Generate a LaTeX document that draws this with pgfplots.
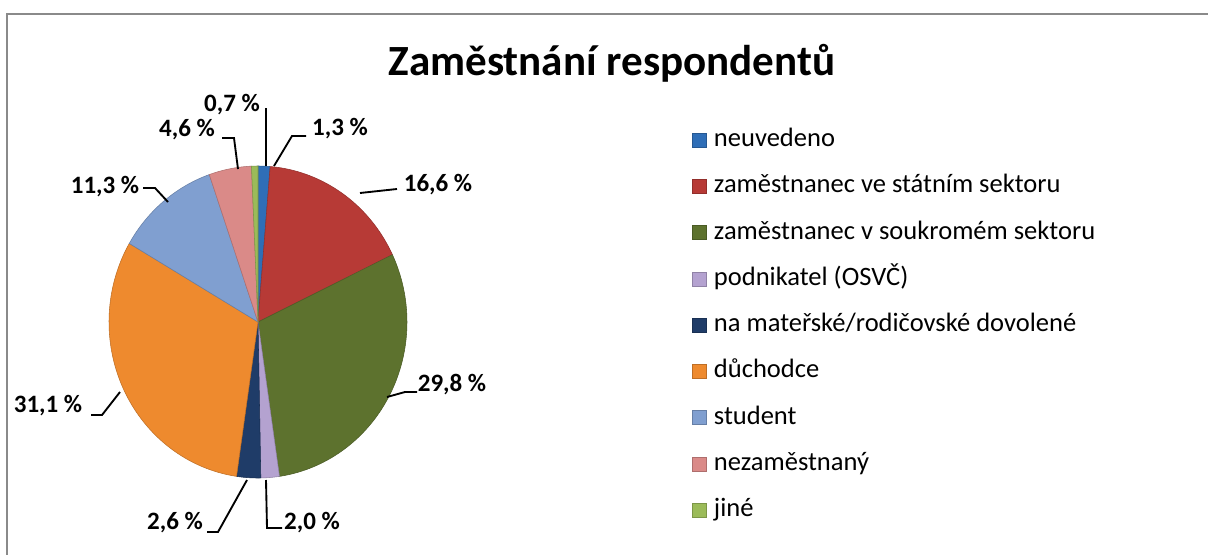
\documentclass[border=0pt]{standalone}
\usepackage{pgfplots}
\pgfplotsset{compat=1.18}
\usepackage{fontspec}
\setmainfont{Carlito}
\definecolor{cNeu}{HTML}{2F6EB7}
\definecolor{cStat}{HTML}{B73A36}
\definecolor{cSouk}{HTML}{5D722E}
\definecolor{cPodn}{HTML}{B4A2D0}
\definecolor{cMat}{HTML}{1F3C68}
\definecolor{cDuch}{HTML}{EE8A2E}
\definecolor{cStud}{HTML}{809FD0}
\definecolor{cNez}{HTML}{DA8A88}
\definecolor{cJin}{HTML}{9BBB59}
\definecolor{frame}{HTML}{8A8A8A}
% #1 cumulative share before the slice, #2 share, #3 colour, #4 legend text
\newcommand\slice[4]{%
  \addplot[fill=#3, draw=#3!80!black, line width=0.4pt,
    domain={90-3.6*(#1+#2)}:{90-3.6*#1}, samples=80, variable=\t]
    ({258+149*cos(\t)},{322-156*sin(\t)}) -- (axis cs:258,322) -- cycle;
  \addlegendentry{#4}}
\newcommand\lbl{\fontsize{18.75}{22}\selectfont\bfseries}
\begin{document}
\begin{tikzpicture}
\begin{axis}[
  scale only axis, width=906pt, height=415.5pt,
  xmin=0, xmax=1208, ymin=0, ymax=554, y dir=reverse,
  hide axis, clip=false,
  legend cell align=left,
  legend style={at={(0.5728,0.7690)}, anchor=north west, draw=none, fill=none,
    inner sep=0pt, outer sep=0pt, row sep=16.7pt,
    font=\fontsize{19.9}{24}\selectfont,
    nodes={text height=14pt, text depth=4pt, inner ysep=0pt, inner xsep=5.3pt}},
  legend image code/.code={\fill[#1] (0pt,-5.25pt) rectangle (10.8pt,5.25pt);},
]
\coordinate (BL) at (axis cs:0,554);
\coordinate (TR) at (axis cs:1208,0);
\fill[white] (axis cs:0,0) rectangle (axis cs:1208,554);
\draw[frame, line width=2.1pt] (axis cs:1230,14) -- (axis cs:7,14) -- (axis cs:7,570);

\slice{0}{1.3}{cNeu}{neuvedeno}
\slice{1.3}{16.6}{cStat}{zaměstnanec ve státním sektoru}
\slice{17.9}{29.8}{cSouk}{zaměstnanec v soukromém sektoru}
\slice{47.7}{2.0}{cPodn}{podnikatel (OSVČ)}
\slice{49.7}{2.6}{cMat}{na mateřské/rodičovské dovolené}
\slice{52.3}{31.1}{cDuch}{důchodce}
\slice{83.4}{11.3}{cStud}{student}
\slice{94.7}{4.6}{cNez}{nezaměstnaný}
\slice{99.3}{0.7}{cJin}{jiné}

\node[anchor=base, font=\fontsize{32.3}{36}\selectfont\bfseries] at (axis cs:612,75) {Zaměstnání respondentů};

\begin{scope}[line width=1.4pt, black]
\draw (axis cs:266,108) -- (axis cs:266,166);
\draw (axis cs:306,136) -- (axis cs:292,136) -- (axis cs:274,166);
\draw (axis cs:222,138) -- (axis cs:234,138) -- (axis cs:238,169);
\draw (axis cs:143,188) -- (axis cs:155,188) -- (axis cs:168,202);
\draw (axis cs:397,189) -- (axis cs:360,193);
\draw (axis cs:417,392) -- (axis cs:405,392) -- (axis cs:387,397);
\draw (axis cs:91,415) -- (axis cs:102,415) -- (axis cs:120,392);
\draw (axis cs:207,532) -- (axis cs:218,532) -- (axis cs:247,480);
\draw (axis cs:282,528) -- (axis cs:267,528) -- (axis cs:266,480);
\end{scope}
\node[font=\lbl] at (axis cs:232,105) {0,7 \%};
\node[font=\lbl] at (axis cs:340,129) {1,3 \%};
\node[font=\lbl] at (axis cs:187,130) {4,6 \%};
\node[font=\lbl] at (axis cs:105,187) {11,3 \%};
\node[font=\lbl] at (axis cs:438,185) {16,6 \%};
\node[font=\lbl] at (axis cs:452,385) {29,8 \%};
\node[font=\lbl] at (axis cs:48,406) {31,1 \%};
\node[font=\lbl] at (axis cs:175,523) {2,6 \%};
\node[font=\lbl] at (axis cs:312,523) {2,0 \%};
\end{axis}
\pgfresetboundingbox
\useasboundingbox (BL) rectangle (TR);
\end{tikzpicture}
\end{document}
